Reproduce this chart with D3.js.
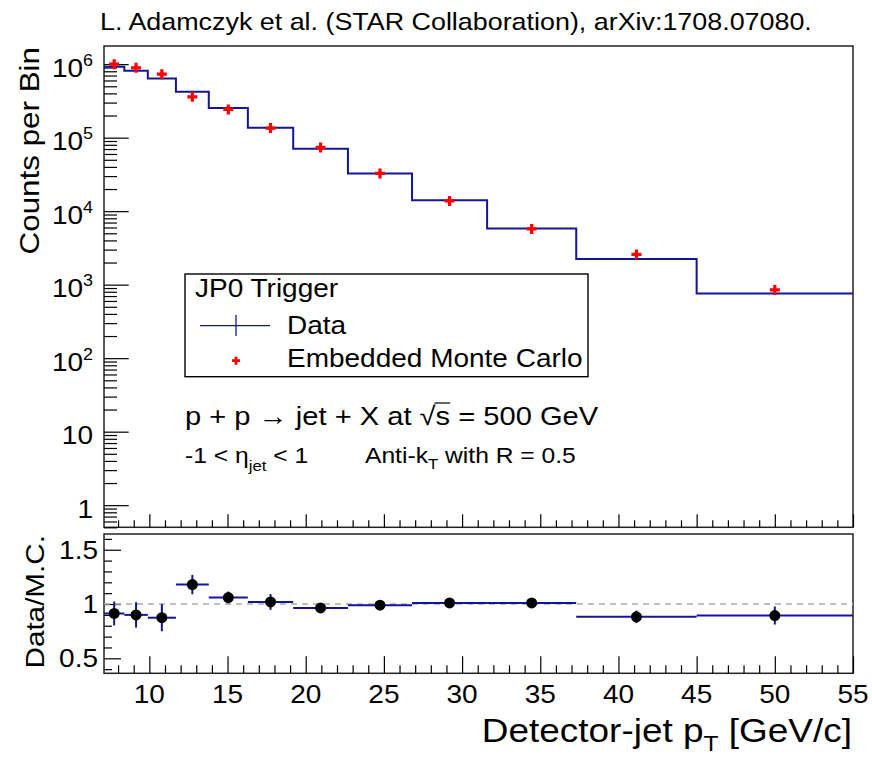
<!DOCTYPE html>
<html>
<head>
<meta charset="utf-8">
<script src="https://cdn.jsdelivr.net/npm/d3@7"></script>
<style>
body { margin: 0; background: #fff; }
text { font-family: "Liberation Sans", Arial, Helvetica, sans-serif; fill: #000; white-space: pre; }
</style>
</head>
<body>
<svg id="chart"></svg>
<script>
// Jet pT spectrum (JP0 trigger) with data / embedded MC ratio panel.
var binEdges = [7.1, 8.4, 9.9, 11.7, 13.8, 16.3, 19.2, 22.7, 26.8, 31.6, 37.3, 45, 55];
var dataCounts = [9.19e5, 8.11e5, 6.39e5, 4.20e5, 2.54e5, 1.36e5, 7.05e4, 3.26e4, 1.41e4, 5.82e3, 2.24e3, 759];
var mcCounts = [1.0e6, 8.91e5, 7.31e5, 3.59e5, 2.42e5, 1.35e5, 7.36e4, 3.26e4, 1.38e4, 5.74e3, 2.58e3, 849];
var ratioValues = [0.913, 0.900, 0.874, 1.179, 1.060, 1.019, 0.964, 0.989, 1.010, 1.010, 0.882, 0.894];
var ratioErrors = [0.11, 0.117, 0.125, 0.089, 0.055, 0.073, 0.03, 0.02, 0.02, 0.02, 0.058, 0.083];

var xTickValues = [10, 15, 20, 25, 30, 35, 40, 45, 50, 55];
var xTickLabels = ['10', '15', '20', '25', '30', '35', '40', '45', '50', '55'];
var yTickValues = [1, 10, 100, 1e3, 1e4, 1e5, 1e6];
var yTickBase = ['1', '10', '10', '10', '10', '10', '10'];
var yTickExp = ['', '', '2', '3', '4', '5', '6'];
var rTickValues = [0.5, 1, 1.5];
var rTickLabels = ['0.5', '1', '1.5'];

var W = 872, H = 757;
var left = 104, right = 853;
var top1 = 46, bot1 = 527.3, top2 = 534, bot2 = 673.3;
var SX = 1.12; // ROOT's Helvetica renders a bit wider than Liberation Sans
var blue = '#14149a';

var svg = d3.select('#chart').attr('width', W).attr('height', H);

var x = d3.scaleLinear().domain([7.1, 55]).range([left, right]);
var y = d3.scaleLog().domain([0.5, 1.766e6]).range([bot1, top1]);
var yr = d3.scaleLinear().domain([0.362, 1.645]).range([bot2, top2]);

function label(parent, px, py, size, anchor, rot) {
	var g = parent.append('g')
		.attr('transform', 'translate(' + px + ',' + py + ')' + (rot ? ' rotate(' + rot + ')' : '') + ' scale(' + SX + ',1)');
	return g.append('text').attr('font-size', size).attr('text-anchor', anchor || 'start');
}

function clean(g) {
	g.select('.domain').remove();
	g.selectAll('line').attr('stroke', '#000').attr('stroke-width', 1.2);
}

// minor tick positions
var xMinor = d3.range(8, 56).filter(function(v) { return v % 5 !== 0; });
var yMinor = [];
[0.1, 1, 10, 100, 1e3, 1e4, 1e5, 1e6].forEach(function(d) {
	for (var k = 2; k <= 9; k++) {
		var v = k * d;
		if (v >= 0.5 && v <= 1.766e6) yMinor.push(v);
	}
});
var rMinor = d3.range(4, 17).map(function(v) { return v / 10; }).filter(function(v) { return rTickValues.indexOf(v) < 0; });

// ---- top panel ----
svg.append('rect').attr('x', left).attr('y', top1).attr('width', right - left).attr('height', bot1 - top1)
	.attr('fill', '#fff').attr('stroke', '#222').attr('stroke-width', 1.5);

svg.append('g').attr('transform', 'translate(0,' + bot1 + ')')
	.call(d3.axisBottom(x).tickValues(xTickValues).tickSize(-13).tickFormat('')).call(clean);
svg.append('g').attr('transform', 'translate(0,' + bot1 + ')')
	.call(d3.axisBottom(x).tickValues(xMinor).tickSize(-7).tickFormat('')).call(clean);
svg.append('g').attr('transform', 'translate(' + left + ',0)')
	.call(d3.axisLeft(y).tickValues(yTickValues).tickSize(-24.7).tickFormat('')).call(clean);
svg.append('g').attr('transform', 'translate(' + left + ',0)')
	.call(d3.axisLeft(y).tickValues(yMinor).tickSize(-13).tickFormat('')).call(clean);

yTickValues.forEach(function(v, i) {
	var t = label(svg, 93, y(v) + 12.5, 25, 'end');
	t.append('tspan').text(yTickBase[i]);
	if (yTickExp[i]) t.append('tspan').attr('font-size', 16).attr('dy', -11).text(yTickExp[i]);
});

var histLine = d3.line()
	.x(function(d) { return x(d[0]); })
	.y(function(d) { return y(d[1]); })
	.curve(d3.curveStepAfter);
var histPts = dataCounts.map(function(c, i) { return [binEdges[i], c]; });
histPts.push([binEdges[binEdges.length - 1], dataCounts[dataCounts.length - 1]]);
svg.append('path').attr('d', histLine(histPts))
	.attr('fill', 'none').attr('stroke', blue).attr('stroke-width', 2);

var centers = binEdges.slice(0, -1).map(function(e, i) { return (e + binEdges[i + 1]) / 2; });

function cross(sel, s, w) {
	sel.append('path').attr('d', 'M' + (-s) + ',0H' + s + 'M0,' + (-s) + 'V' + s)
		.attr('stroke', '#ff0000').attr('stroke-width', w).attr('fill', 'none');
}
svg.selectAll('.mc')
	.data(mcCounts)
	.join('g')
		.attr('class', 'mc')
		.attr('transform', function(d, i) { return 'translate(' + x(centers[i]) + ',' + y(d) + ')'; })
		.each(function() { cross(d3.select(this), 5, 3.2); });

// legend
var leg = svg.append('g');
leg.append('rect').attr('x', 185).attr('y', 274).attr('width', 403).attr('height', 102.7)
	.attr('fill', '#fff').attr('stroke', '#000').attr('stroke-width', 1.4);
label(leg, 195, 297, 25).text('JP0 Trigger');
leg.append('line').attr('x1', 200).attr('x2', 270).attr('y1', 325.7).attr('y2', 325.7).attr('stroke', blue).attr('stroke-width', 1.3);
leg.append('line').attr('x1', 236).attr('x2', 236).attr('y1', 315).attr('y2', 336).attr('stroke', blue).attr('stroke-width', 1.3);
label(leg, 287, 334, 25).text('Data');
cross(leg.append('g').attr('transform', 'translate(236,360.7)'), 4, 2.8);
label(leg, 287, 367, 25).text('Embedded Monte Carlo');

// annotations
var full = 'p + p \u2192 jet + X at \u221As = 500 GeV';
var pp = label(svg, 185, 425, 26).text(full);
var node = pp.node();
var iRoot = full.indexOf('\u221A');
d3.select(node.parentNode).append('line')
	.attr('x1', node.getEndPositionOfChar(iRoot).x - 1)
	.attr('x2', node.getEndPositionOfChar(iRoot + 1).x)
	.attr('y1', -22).attr('y2', -22)
	.attr('stroke', '#000').attr('stroke-width', 1.2);

var eta = label(svg, 185, 463, 22);
eta.append('tspan').text('-1 < \u03B7');
eta.append('tspan').attr('font-size', 15).attr('dy', 8).text('jet');
eta.append('tspan').attr('dy', -8).text(' < 1');

var akt = label(svg, 365, 463, 22);
akt.append('tspan').text('Anti-k');
akt.append('tspan').attr('font-size', 15).attr('dy', 6).text('T');
akt.append('tspan').attr('dy', -6).text(' with R = 0.5');

// ---- ratio panel ----
svg.append('rect').attr('x', left).attr('y', top2).attr('width', right - left).attr('height', bot2 - top2)
	.attr('fill', '#fff').attr('stroke', '#222').attr('stroke-width', 1.5);

svg.append('g').attr('transform', 'translate(0,' + bot2 + ')')
	.call(d3.axisBottom(x).tickValues(xTickValues).tickSize(-17).tickFormat('')).call(clean);
svg.append('g').attr('transform', 'translate(0,' + bot2 + ')')
	.call(d3.axisBottom(x).tickValues(xMinor).tickSize(-8).tickFormat('')).call(clean);
svg.append('g').attr('transform', 'translate(' + left + ',0)')
	.call(d3.axisLeft(yr).tickValues(rTickValues).tickSize(-17).tickFormat('')).call(clean);
svg.append('g').attr('transform', 'translate(' + left + ',0)')
	.call(d3.axisLeft(yr).tickValues(rMinor).tickSize(-8).tickFormat('')).call(clean);

xTickValues.forEach(function(v, i) {
	label(svg, x(v), 703, 25, 'middle').text(xTickLabels[i]);
});
rTickValues.forEach(function(v, i) {
	label(svg, 98, yr(v) + 9, 25, 'end').text(rTickLabels[i]);
});

svg.append('line').attr('x1', left).attr('x2', right).attr('y1', yr(1)).attr('y2', yr(1))
	.attr('stroke', '#aaa').attr('stroke-width', 1.5).attr('stroke-dasharray', '6,5');

var rg = svg.selectAll('.ratio')
	.data(ratioValues)
	.join('g')
		.attr('class', 'ratio');
rg.append('line')
	.attr('x1', function(d, i) { return x(binEdges[i]); })
	.attr('x2', function(d, i) { return x(binEdges[i + 1]); })
	.attr('y1', function(d) { return yr(d); })
	.attr('y2', function(d) { return yr(d); })
	.attr('stroke', blue).attr('stroke-width', 2);
rg.append('line')
	.attr('x1', function(d, i) { return x(centers[i]); })
	.attr('x2', function(d, i) { return x(centers[i]); })
	.attr('y1', function(d, i) { return yr(d - ratioErrors[i]); })
	.attr('y2', function(d, i) { return yr(d + ratioErrors[i]); })
	.attr('stroke', blue).attr('stroke-width', 2);
rg.append('circle')
	.attr('cx', function(d, i) { return x(centers[i]); })
	.attr('cy', function(d) { return yr(d); })
	.attr('r', 5.5)
	.attr('fill', '#000');

// ---- titles ----
label(svg, 100, 30, 24).text('L. Adamczyk et al. (STAR Collaboration), arXiv:1708.07080.');
label(svg, 39, 47, 28, 'end', -90).text('Counts per Bin');
label(svg, 44, 535, 26.5, 'end', -90).text('Data/M.C.');

var xt = label(svg, 852, 742, 33, 'end');
xt.append('tspan').text('Detector-jet p');
xt.append('tspan').attr('font-size', 22).attr('dy', 9).text('T');
xt.append('tspan').attr('dy', -9).text(' [GeV/c]');
</script>
</body>
</html>
